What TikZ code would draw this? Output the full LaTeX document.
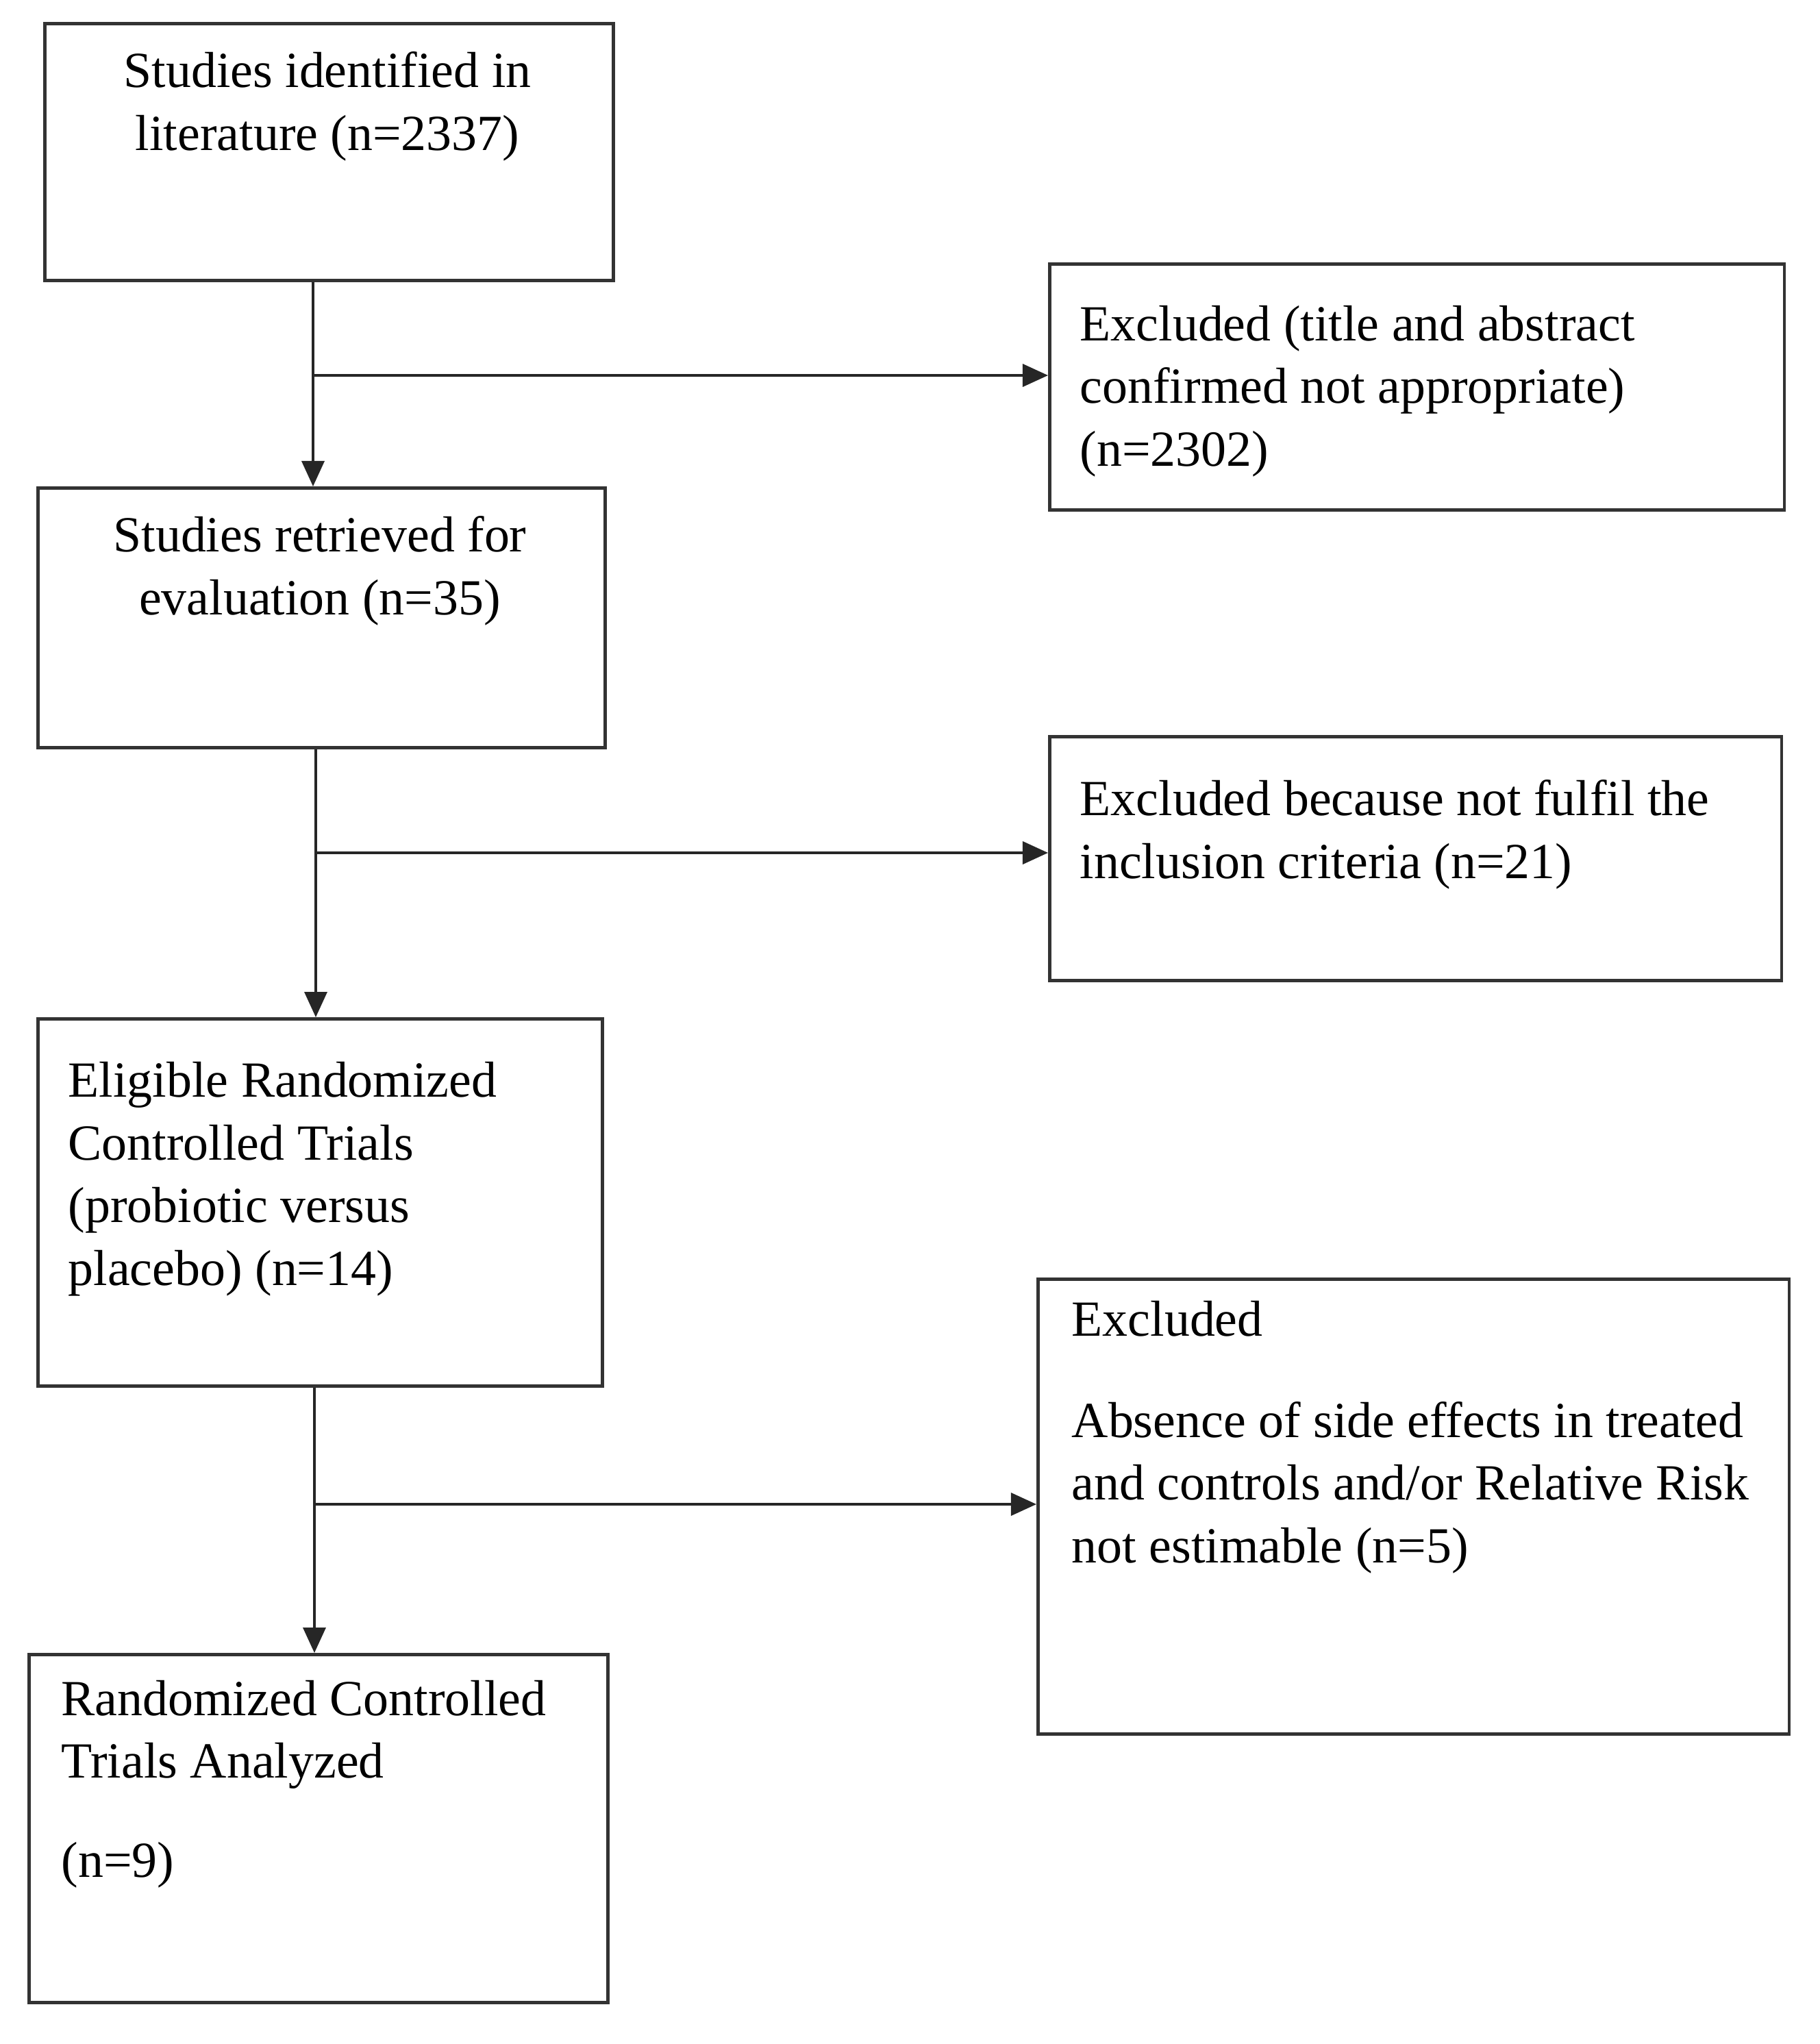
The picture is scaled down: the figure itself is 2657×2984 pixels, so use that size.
\documentclass[tikz,border=0pt]{standalone}
\usepackage{fontspec}
\setmainfont{Liberation Serif}
\usetikzlibrary{arrows.meta}

\begin{document}
\begin{tikzpicture}[x=0.01cm, y=-0.01cm,
  box/.style={draw=black!80, line width=1.3pt, anchor=north west, inner sep=0pt},
  txt/.style={anchor=base west, inner sep=0pt, font=\fontsize{21}{26}\selectfont, align=left},
  ctxt/.style={txt, anchor=base, align=center},
  arr/.style={draw=black!85, line width=1pt, -{Triangle[length=0.37cm, width=0.33cm]}}]
\useasboundingbox (0,0) rectangle (2657,2984);

% left column
\path (63,32) node[box, minimum width=8.30cm, minimum height=3.75cm] (lit) {};
\path (53,710) node[box, minimum width=8.28cm, minimum height=3.79cm] (retr) {};
\path (53,1485) node[box, minimum width=8.24cm, minimum height=5.36cm] (elig) {};
\path (40,2413) node[box, minimum width=8.45cm, minimum height=5.08cm] (anal) {};

% right column
\path (1530,383) node[box, minimum width=10.72cm, minimum height=3.59cm] (excl1) {};
\path (1530,1073) node[box, minimum width=10.68cm, minimum height=3.56cm] (excl2) {};
\path (1513,1865) node[box, minimum width=10.96cm, minimum height=6.64cm] (excl3) {};

% texts (base = last line)
\path (478,219) node[ctxt] (litT) {Studies identified in\\literature (n=2337)};
\path (467,897) node[ctxt] (retrT) {Studies retrieved for\\evaluation (n=35)};
\path (99,1876) node[txt] (eligT) {Eligible Randomized\\Controlled Trials\\(probiotic versus\\placebo) (n=14)};
\path (89,2740) node[txt] (analT) {Randomized Controlled\\Trials Analyzed\\[15pt](n=9)};
\path (1576,680) node[txt] (excl1T) {Excluded (title and abstract\\confirmed not appropriate)\\(n=2302)};
\path (1576,1282) node[txt] (excl2T) {Excluded because not fulfil the\\inclusion criteria (n=21)};
\path (1564,2281) node[txt] (excl3T) {Excluded\\[16pt]Absence of side effects in treated\\and controls and/or Relative Risk\\not estimable (n=5)};

\coordinate (j1) at (457,548);
\coordinate (j2) at (461,1245);
\coordinate (j3) at (459,2196);
\draw[arr] (j1 |- lit.south) -- (j1 |- retr.north);
\draw[arr] (j1) -- (j1 -| excl1.west);
\draw[arr] (j2 |- retr.south) -- (j2 |- elig.north);
\draw[arr] (j2) -- (j2 -| excl2.west);
\draw[arr] (j3 |- elig.south) -- (j3 |- anal.north);
\draw[arr] (j3) -- (j3 -| excl3.west);
\end{tikzpicture}
\end{document}
